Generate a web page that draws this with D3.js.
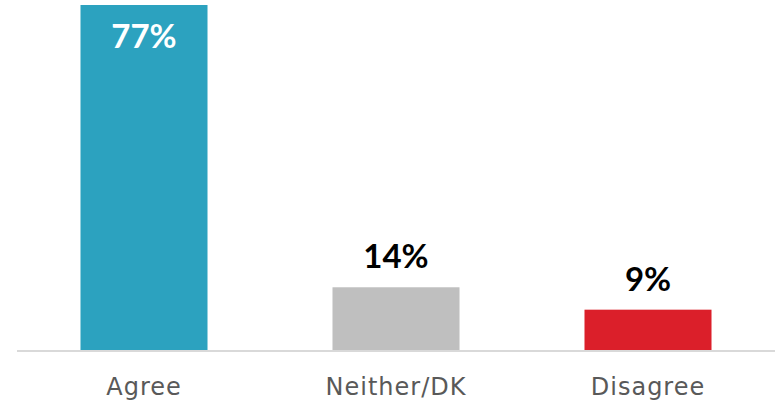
<!DOCTYPE html>
<html><head><meta charset="utf-8">
<script src="https://cdn.jsdelivr.net/npm/d3@7"></script>
<style>body{margin:0;background:#fff}svg{display:block}</style>
</head><body>
<script>
const categories = ["Agree", "Neither/DK", "Disagree"];
const values = [77, 14, 9];
const colors = ["#2CA2BF", "#BFBFBF", "#DB1F2A"];
const valueLabels = ["77%", "14%", "9%"];

const W = 779, H = 403;
const baseline = 350;
const svg = d3.select("body").append("svg").attr("width", W).attr("height", H);

const x = d3.scaleBand().domain(categories).range([18, 774]).paddingInner(0.496).paddingOuter(0.248);
const y = d3.scaleLinear().domain([0, 77]).range([baseline, 5]);

svg.selectAll("rect.bar").data(values).join("rect")
  .attr("class", "bar")
  .attr("x", (d, i) => x(categories[i]))
  .attr("width", x.bandwidth())
  .attr("y", d => y(d))
  .attr("height", d => baseline - y(d))
  .attr("fill", (d, i) => colors[i]);

const axis = svg.append("g").attr("transform", `translate(0,${baseline + 1})`)
  .call(d3.axisBottom(x).tickSize(0).tickPadding(27));
axis.select(".domain").attr("stroke", "#D9D9D9").attr("stroke-width", 2).attr("d", "M17,0H775");
axis.selectAll("text").attr("font-family", "'DejaVu Sans', sans-serif").attr("font-size", 24)
  .attr("letter-spacing", 1)
  .attr("fill", "#595959").attr("dy", "0.71em");

svg.selectAll("text.val").data(values).join("text")
  .attr("class", "val")
  .attr("x", (d, i) => x(categories[i]) + x.bandwidth() / 2)
  .attr("y", (d, i) => i === 0 ? y(d) + 43 : y(d) - 19)
  .attr("text-anchor", "middle")
  .attr("font-family", "Lato, sans-serif").attr("font-weight", "bold").attr("font-size", 33)
  .attr("fill", (d, i) => i === 0 ? "#fff" : "#000")
  .text((d, i) => valueLabels[i]);
</script>
</body></html>
